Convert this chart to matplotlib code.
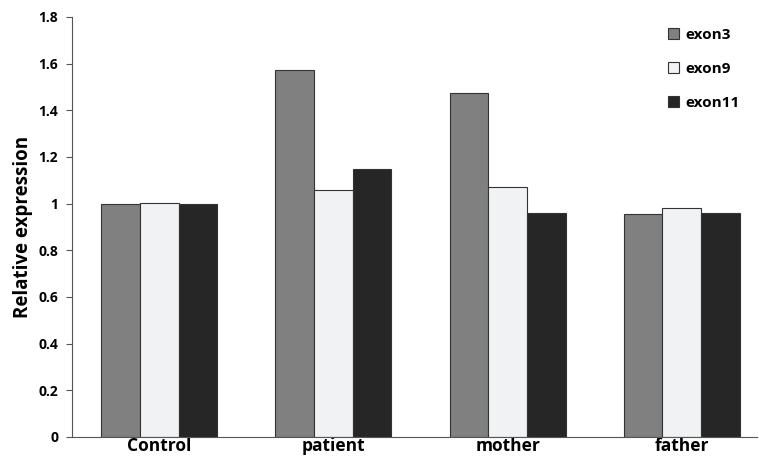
import numpy as np
import matplotlib.pyplot as plt

plt.rcParams['font.family'] = ['Open Sans', 'DejaVu Sans']

groups = ["Control", "patient", "mother", "father"]
series = ["exon3", "exon9", "exon11"]
exon3 = [1.0, 1.573, 1.473, 0.955]
exon9 = [1.003, 1.059, 1.069, 0.979]
exon11 = [1.0, 1.149, 0.961, 0.961]
yticks = [0, 0.2, 0.4, 0.6, 0.8, 1, 1.2, 1.4, 1.6, 1.8]
ytick_labels = ["0", "0.2", "0.4", "0.6", "0.8", "1", "1.2", "1.4", "1.6", "1.8"]

colors = ["#808080", "#f0f2f4", "#262626"]

fig = plt.figure(figsize=(7.59, 4.57), dpi=100)
ax = fig.add_axes([0.095, 0.044, 0.902, 0.919])

x = np.arange(len(groups))
w = 0.222
for i, (vals, name) in enumerate(zip([exon3, exon9, exon11], series)):
    ax.bar(x + (i - 1) * w, vals, width=w, color=colors[i], edgecolor="#333333",
           linewidth=0.8, label=name)

ax.set_xlim(-0.5, 3.43)
ax.set_ylim(0, 1.8)
ax.set_yticks(yticks)
ax.set_yticklabels(ytick_labels, fontsize=10, fontweight="bold")
ax.set_xticks(x)
ax.set_xticklabels(groups, fontsize=12.5, fontweight="bold")
ax.tick_params(axis="x", length=0, pad=0)
ax.tick_params(axis="y", length=4, width=0.8, color="#555555", pad=6)
ax.set_ylabel("Relative expression", fontsize=13.5, fontweight="bold", labelpad=4)

for s in ["top", "right"]:
    ax.spines[s].set_visible(False)
for s in ["left", "bottom"]:
    ax.spines[s].set_color("#555555")
    ax.spines[s].set_linewidth(0.8)

ax.legend(loc="upper right", bbox_to_anchor=(0.995, 1.007), frameon=False,
          prop={"weight": "bold", "size": 11}, handlelength=0.7, handleheight=0.7,
          handletextpad=0.4, labelspacing=1.32)

fig.savefig("out.png", dpi=100)
